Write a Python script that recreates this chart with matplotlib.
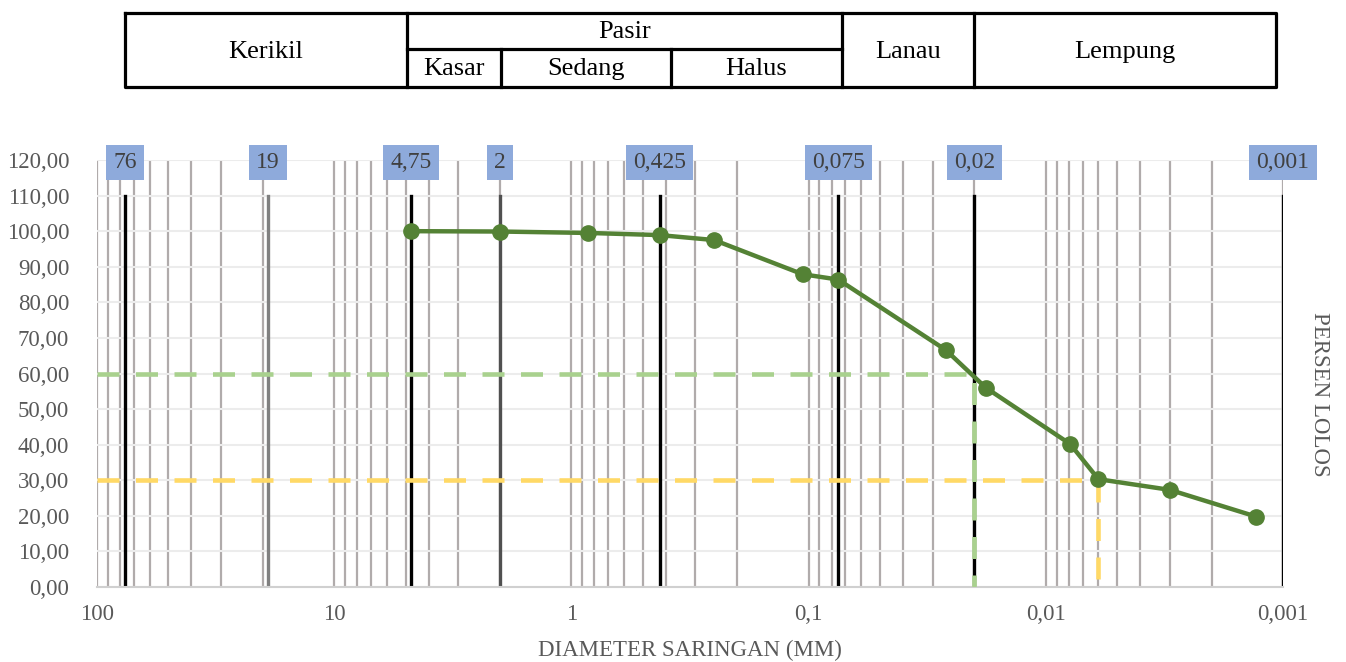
import matplotlib
matplotlib.use("Agg")
import matplotlib.pyplot as plt
from matplotlib.ticker import LogLocator, FixedLocator, FuncFormatter, NullFormatter

plt.rcParams["font.family"] = ["Liberation Serif", "DejaVu Serif"]

# grain size analysis data
diameter = [4.75, 2.0, 0.85, 0.425, 0.25, 0.106, 0.075, 0.0264, 0.0179, 0.0079, 0.006, 0.003, 0.0013]
persen_lolos = [100.0, 99.9, 99.5, 98.9, 97.5, 87.9, 86.4, 66.6, 56.0, 40.2, 30.3, 27.3, 19.8]

# sieve reference lines
sieve_size = [76, 19, 4.75, 2, 0.425, 0.075, 0.02, 0.001]
sieve_label = ["76", "19", "4,75", "2", "0,425", "0,075", "0,02", "0,001"]
sieve_color = ["black", "#808080", "black", "#505050", "black", "black", "black", "black"]
sieve_top = 110

# D60 and D30
d60, p60 = 0.02, 60
d30, p30 = 0.006, 30

x_ticks = [100, 10, 1, 0.1, 0.01, 0.001]
x_ticklabels = ["100", "10", "1", "0,1", "0,01", "0,001"]
y_ticks = list(range(0, 130, 10))

# classification table (figure pixels)
table_edges = [125, 407, 842, 974, 1276]
table_top, table_mid, table_bottom = 13, 49, 87
pasir_sub = [407, 501, 671, 842]
table_main = [("Kerikil", 0), ("Lanau", 2), ("Lempung", 3)]
pasir_names = ["Kasar", "Sedang", "Halus"]

W, H = 1346, 662
fig = plt.figure(figsize=(W / 100, H / 100), dpi=100)
ax = fig.add_axes([97 / W, 1 - 587 / H, (1283 - 97) / W, (587 - 160) / H])

ax.set_xscale("log")
ax.set_xlim(100, 0.001)
ax.set_ylim(0, 120)

grey_txt = "#595959"

# grid
ax.xaxis.set_major_locator(FixedLocator(x_ticks))
ax.xaxis.set_minor_locator(LogLocator(base=10, subs=range(2, 10), numticks=20))
ax.xaxis.set_minor_formatter(NullFormatter())
ax.set_xticklabels(x_ticklabels)
ax.set_yticks(y_ticks)
ax.yaxis.set_major_formatter(FuncFormatter(lambda v, p: ("%.2f" % v).replace(".", ",")))
ax.grid(axis="x", which="both", color="#b0abab", linewidth=1.6, zorder=0)
ax.grid(axis="y", which="major", color="#ececec", linewidth=1.5, zorder=0)
ax.set_axisbelow(True)
ax.tick_params(axis="both", which="both", length=0, labelsize=16.5, colors=grey_txt)
ax.tick_params(axis="x", pad=12)
ax.tick_params(axis="y", pad=20)
for s in ["top", "right", "left"]:
    ax.spines[s].set_visible(False)
ax.spines["bottom"].set_color("#d0d0d0")
ax.spines["bottom"].set_linewidth(1.5)

# sieve lines and labels
for size, lab, col in zip(sieve_size, sieve_label, sieve_color):
    ax.plot([size, size], [0, sieve_top], color=col, linewidth=2.4, zorder=2)
    ax.text(size, 119.2, lab, ha="center", va="center", fontsize=17, color="#404040",
            bbox=dict(boxstyle="square,pad=0.3", facecolor="#8eaadb", edgecolor="none"),
            zorder=5, clip_on=False)

# D60 / D30 dashed lines
ax.plot([100, d60, d60], [p60, p60, 0], color="#a9d18e", linewidth=3.3, dashes=(4.8, 3.6), zorder=3)
ax.plot([100, d30, d30], [p30, p30, 0], color="#ffd966", linewidth=3.3, dashes=(4.8, 3.6), zorder=3)

# grading curve
ax.plot(diameter, persen_lolos, color="#548235", linewidth=3.2, marker="o", markersize=11, zorder=4)

fig.text(690 / W, 1 - 650 / H, "DIAMETER SARINGAN (MM)", ha="center", va="center",
         fontsize=16.5, color=grey_txt)
fig.text(1320 / W, 1 - 394 / H, "PERSEN LOLOS", ha="center", va="center",
         rotation=-90, fontsize=16.5, color=grey_txt)

# classification table on top
tab = fig.add_axes([0, 0, 1, 1], zorder=-1)
tab.set_xlim(0, W)
tab.set_ylim(H, 0)
tab.axis("off")
lw = 2.3
tab.plot([table_edges[0], table_edges[-1], table_edges[-1], table_edges[0], table_edges[0]],
         [table_top, table_top, table_bottom, table_bottom, table_top], color="black", linewidth=lw)
for xe in table_edges[1:-1]:
    tab.plot([xe, xe], [table_top, table_bottom], color="black", linewidth=lw)
tab.plot([pasir_sub[0], pasir_sub[-1]], [table_mid, table_mid], color="black", linewidth=lw)
for xe in pasir_sub[1:-1]:
    tab.plot([xe, xe], [table_mid, table_bottom], color="black", linewidth=lw)
for name, i in table_main:
    tab.text((table_edges[i] + table_edges[i + 1]) / 2, (table_top + table_bottom) / 2 + 2, name,
             ha="center", va="center", fontsize=19)
tab.text((pasir_sub[0] + pasir_sub[-1]) / 2, (table_top + table_mid) / 2 + 1, "Pasir",
         ha="center", va="center", fontsize=19)
for j, name in enumerate(pasir_names):
    tab.text((pasir_sub[j] + pasir_sub[j + 1]) / 2, (table_mid + table_bottom) / 2 + 1, name,
             ha="center", va="center", fontsize=19)

fig.savefig("out.png", dpi=100)
